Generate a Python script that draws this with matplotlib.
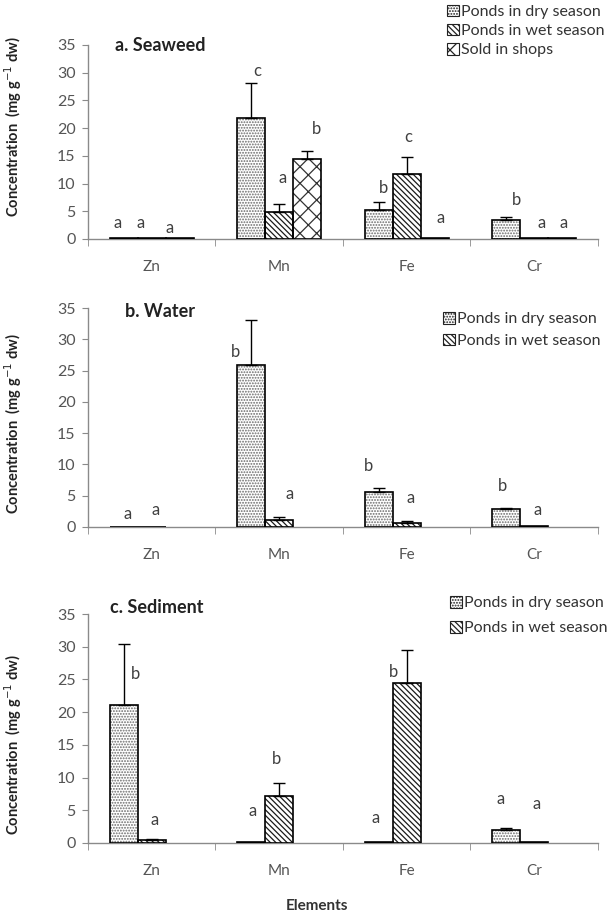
import numpy as np
import matplotlib.pyplot as plt
from matplotlib.patches import Patch

plt.rcParams['font.family'] = ['Lato', 'DejaVu Sans']
plt.rcParams['hatch.linewidth'] = 0.9

elements = ['Zn', 'Mn', 'Fe', 'Cr']
series = ['Ponds in dry season', 'Ponds in wet season', 'Sold in shops']
hatches = ['......', '\\' * 6, 'xx']
hatch_colors = ['#6a6a6a', '#1a1a1a', '#333333']

# a. seaweed
seaweed_dry = [0.25, 21.8, 5.3, 3.5]
seaweed_dry_sd = [0, 6.3, 1.3, 0.4]
seaweed_wet = [0.25, 4.95, 11.8, 0.25]
seaweed_wet_sd = [0, 1.35, 3.0, 0]
seaweed_shop = [0.25, 14.4, 0.25, 0.25]
seaweed_shop_sd = [0, 1.5, 0, 0]
seaweed_letters = ['a', 'a', 'a', 'c', 'a', 'b', 'b', 'c', 'a', 'b', 'a', 'a']
seaweed_letter_x = [-0.27, -0.09, 0.14, 0.83, 1.03, 1.29, 1.82, 2.01, 2.27, 2.86, 3.06, 3.23]
seaweed_letter_y = [2.9, 2.9, 2.0, 30.3, 11.0, 19.9, 9.2, 18.4, 3.8, 7.1, 2.9, 2.8]

# b. water
water_dry = [0, 25.9, 5.6, 2.8]
water_dry_sd = [0, 7.2, 0.6, 0.2]
water_wet = [0, 1.05, 0.7, 0.12]
water_wet_sd = [0, 0.55, 0.25, 0]
water_letters = ['a', 'a', 'b', 'a', 'b', 'a', 'b', 'a']
water_letter_x = [-0.19, 0.03, 0.66, 1.08, 1.70, 2.03, 2.75, 3.03]
water_letter_y = [2.0, 2.7, 28.0, 5.25, 9.8, 4.6, 6.6, 2.7]

# c. sediment
sediment_dry = [21.1, 0.15, 0.15, 1.95]
sediment_dry_sd = [9.3, 0, 0, 0.4]
sediment_wet = [0.45, 7.15, 24.4, 0.15]
sediment_wet_sd = [0.1, 2.05, 5.1, 0]
sediment_letters = ['b', 'a', 'a', 'b', 'a', 'b', 'a', 'a']
sediment_letter_x = [-0.13, 0.02, 0.79, 0.98, 1.76, 1.90, 2.74, 3.02]
sediment_letter_y = [25.9, 3.5, 4.85, 12.9, 3.8, 26.2, 6.8, 6.0]

axis_grey = '#8a8a8a'
text_grey = '#555555'
bar_w = 0.22

fig = plt.figure(figsize=(6.12, 9.17), dpi=100)
ax_a = fig.add_axes([0.1438, 0.7394, 0.833, 0.2116])
ax_b = fig.add_axes([0.1438, 0.4253, 0.833, 0.2388])
ax_c = fig.add_axes([0.1438, 0.0807, 0.833, 0.2497])


def draw_panel(ax, means, sds, letters, lx, ly, title, title_xy, ylab_y):
    x = np.arange(len(elements))
    for i, (m, s) in enumerate(zip(means, sds)):
        pos = x + (i - 1) * bar_w
        # fill pattern first, then a plain black outline on top
        ax.bar(pos, m, width=bar_w, color='white', edgecolor=hatch_colors[i],
               linewidth=0, hatch=hatches[i], zorder=3)
        ax.bar(pos, m, width=bar_w, color='none', edgecolor='black',
               linewidth=1.2, zorder=3.5)
        s = np.array(s)
        keep = s > 0
        ax.errorbar(pos[keep], np.array(m)[keep],
                    yerr=[np.zeros(keep.sum()), s[keep]], fmt='none',
                    ecolor='black', elinewidth=1, capsize=4, capthick=1, zorder=4)
    for t, tx, ty in zip(letters, lx, ly):
        ax.text(tx, ty, t, ha='center', va='center', fontsize=12, color='#404040')

    ax.set_xlim(-0.5, 3.5)
    ax.set_ylim(0, 35)
    ax.set_yticks(range(0, 36, 5))
    ax.set_xticks(x)
    ax.set_xticklabels(elements)
    ax.set_xticks(np.arange(-0.5, 4, 1), minor=True)
    ax.tick_params(axis='x', which='major', length=0, pad=15, labelsize=11, labelcolor=text_grey)
    ax.tick_params(axis='x', which='minor', length=5, color=axis_grey, direction='out')
    ax.tick_params(axis='y', length=4, color=axis_grey, labelsize=11.5, labelcolor=text_grey, pad=5)
    for side in ['top', 'right']:
        ax.spines[side].set_visible(False)
    for side in ['left', 'bottom']:
        ax.spines[side].set_color(axis_grey)
        ax.spines[side].set_linewidth(1)
    ax.set_ylabel('Concentration  (mg g$^{-1}$ dw)', fontsize=10.5, fontweight='bold', color='#222222')
    ax.yaxis.set_label_coords(-0.125, ylab_y)
    ax.text(title_xy[0], title_xy[1], title, transform=ax.transAxes, fontsize=13,
            fontweight='bold', color='#222222', ha='left', va='center')


draw_panel(ax_a, [seaweed_dry, seaweed_wet, seaweed_shop],
           [seaweed_dry_sd, seaweed_wet_sd, seaweed_shop_sd],
           seaweed_letters, seaweed_letter_x, seaweed_letter_y,
           'a. Seaweed', (0.053, 0.995), 0.58)
draw_panel(ax_b, [water_dry, water_wet], [water_dry_sd, water_wet_sd],
           water_letters, water_letter_x, water_letter_y,
           'b. Water', (0.072, 0.985), 0.47)
draw_panel(ax_c, [sediment_dry, sediment_wet], [sediment_dry_sd, sediment_wet_sd],
           sediment_letters, sediment_letter_x, sediment_letter_y,
           'c. Sediment', (0.043, 1.03), 0.43)


def add_legend(n, anchor, spacing):
    handles = [Patch(facecolor='white', edgecolor=hatch_colors[i], linewidth=0.8,
                     hatch=hatches[i]) for i in range(n)]
    leg = fig.legend(handles, series[:n], loc='upper right', bbox_to_anchor=anchor,
                     bbox_transform=fig.transFigure, frameon=False, fontsize=11.5,
                     handlelength=0.75, handleheight=0.75, handletextpad=0.15,
                     labelspacing=spacing, borderpad=0, borderaxespad=0, labelcolor='#333333')
    for h in leg.legend_handles:
        h.set_edgecolor('#222222')


add_legend(3, (0.988, 0.995), 0.3)
add_legend(2, (0.982, 1 - 312 / 917), 0.45)
add_legend(2, (0.993, 1 - 596 / 917), 0.65)

fig.text(0.518, 1 - 906 / 917, 'Elements', ha='center', va='center',
         fontsize=11, fontweight='bold', color='#333333')

fig.savefig('out.png', dpi=100)
